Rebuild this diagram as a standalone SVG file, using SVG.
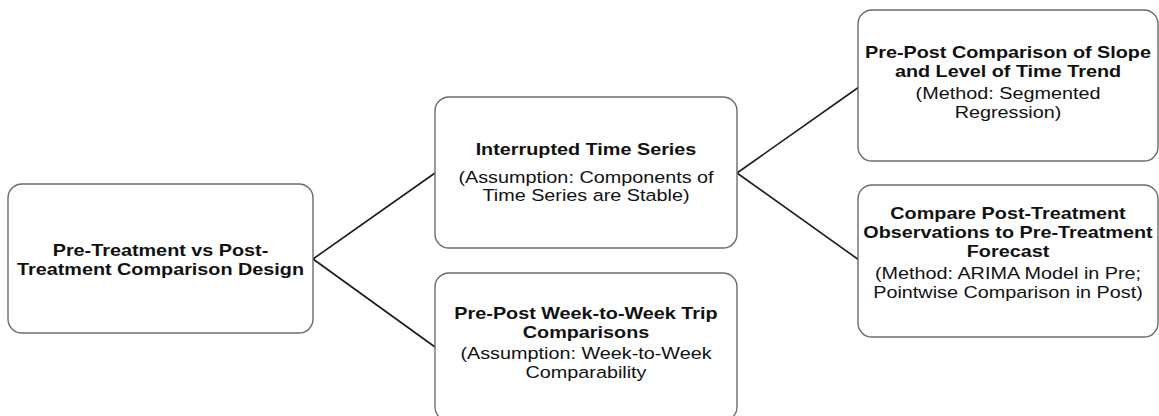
<svg xmlns="http://www.w3.org/2000/svg" width="1159" height="416" viewBox="0 0 1159 416">
<style>
.box{fill:#fff;stroke:#6b6b6b;stroke-width:1.4}
.t{font-family:"Liberation Sans",Arial,sans-serif;font-size:16.5px;fill:#111;text-anchor:middle}
.b{font-weight:bold}
.edge{stroke:#1a1a1a;stroke-width:1.6;fill:none}
</style>
<rect width="1159" height="416" fill="#fff"/>
<g id="connectors">
<line class="edge" x1="313" y1="259" x2="435" y2="173"/>
<line class="edge" x1="313" y1="259" x2="435" y2="347"/>
<line class="edge" x1="737" y1="173" x2="859" y2="87"/>
<line class="edge" x1="737" y1="173" x2="859" y2="260"/>
</g>
<g id="node-root">
<rect class="box" x="8" y="184" width="305" height="149" rx="14"/>
<g transform="translate(160.5 0) scale(1.2 1)">
<text class="t b" x="0" y="256">Pre-Treatment vs Post-</text>
<text class="t b" x="0" y="275">Treatment Comparison Design</text>
</g>
</g>
<g id="node-its">
<rect class="box" x="435" y="97" width="302" height="151" rx="14"/>
<g transform="translate(586 0) scale(1.2 1)">
<text class="t b" x="0" y="155">Interrupted Time Series</text>
<text class="t" x="0" y="183">(Assumption: Components of</text>
<text class="t" x="0" y="201.5">Time Series are Stable)</text>
</g>
</g>
<g id="node-week">
<rect class="box" x="435" y="273" width="302" height="148" rx="14"/>
<g transform="translate(586 0) scale(1.2 1)">
<text class="t b" x="0" y="319">Pre-Post Week-to-Week Trip</text>
<text class="t b" x="0" y="338">Comparisons</text>
<text class="t" x="0" y="359.5">(Assumption: Week-to-Week</text>
<text class="t" x="0" y="378">Comparability</text>
</g>
</g>
<g id="node-slope">
<rect class="box" x="858" y="10" width="300" height="151" rx="14"/>
<g transform="translate(1008 0) scale(1.2 1)">
<text class="t b" x="0" y="58.5">Pre-Post Comparison of Slope</text>
<text class="t b" x="0" y="77.5">and Level of Time Trend</text>
<text class="t" x="0" y="99.5">(Method: Segmented</text>
<text class="t" x="0" y="118">Regression)</text>
</g>
</g>
<g id="node-forecast">
<rect class="box" x="858" y="185" width="300" height="152" rx="14"/>
<g transform="translate(1008 0) scale(1.2 1)">
<text class="t b" x="0" y="219.5">Compare Post-Treatment</text>
<text class="t b" x="0" y="238.5">Observations to Pre-Treatment</text>
<text class="t b" x="0" y="257.5">Forecast</text>
<text class="t" x="0" y="279.5">(Method: ARIMA Model in Pre;</text>
<text class="t" x="0" y="298.5">Pointwise Comparison in Post)</text>
</g>
</g>
</svg>
